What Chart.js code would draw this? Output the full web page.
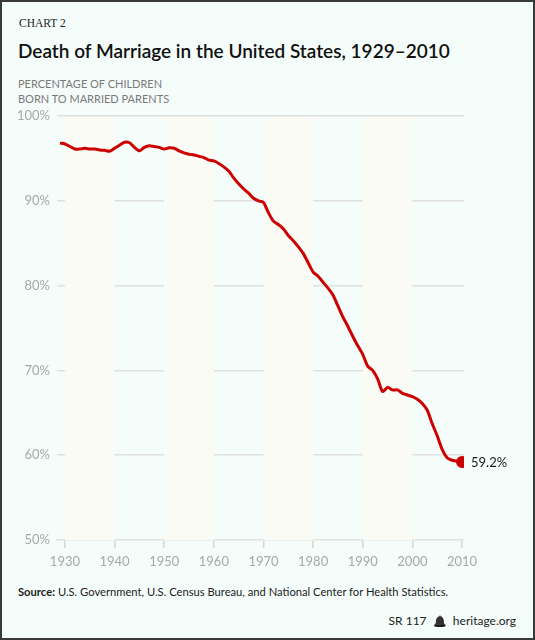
<!DOCTYPE html>
<html>
<head>
<meta charset="utf-8">
<script src="https://cdn.jsdelivr.net/npm/chart.js@4.4.1/dist/chart.umd.min.js"></script>
<style>
  html, body { margin: 0; padding: 0; background: #fff; }
  #frame {
    position: relative; box-sizing: border-box;
    width: 535px; height: 640px;
    border: 2px solid #3a3a3a;
    background: #f5fdfb;
    font-family: Lato, "Open Sans", sans-serif;
  }
  .kicker { position: absolute; left: 17px; top: 15px; font-family: "Liberation Serif", serif; font-size: 11.5px; color: #222; }
  .title { position: absolute; left: 16px; top: 37px; font-size: 19px; font-weight: 600; color: #111; }
  .subtitle { position: absolute; left: 16px; top: 74px; font-size: 11px; line-height: 15px; color: #7a7a7a; }
  #wrap { position: absolute; left: 0; top: 98px; width: 531px; height: 480px; }
  .source { position: absolute; left: 16px; top: 583px; font-size: 11.2px; color: #222; }
  .source b { font-weight: 700; }
  .foot { position: absolute; right: 17px; top: 611px; font-size: 12px; color: #222; }
  .sino { filter: grayscale(1) brightness(0.25); font-size: 11px; }
</style>
</head>
<body>
<div id="frame">
  <div class="kicker">CHART 2</div>
  <div class="title">Death of Marriage in the United States, 1929–2010</div>
  <div class="subtitle">PERCENTAGE OF CHILDREN<br>BORN TO MARRIED PARENTS</div>
  <div id="wrap"><canvas id="chartMarriage"></canvas></div>
  <div class="source"><b>Source:</b> U.S. Government, U.S. Census Bureau, and National Center for Health Statistics.</div>
  <div class="foot">SR 117 &nbsp;<span class="sino">&#x1F514;</span>&nbsp; heritage.org</div>
</div>
<script>
// Anos (1929–2010) e percentual de filhos de pais casados
const anos = [];
for (let a = 1929; a <= 2010; a++) anos.push(a);

const percentual = [
  96.8, 96.7, 96.4, 96.1, 96.1, 96.2, 96.1, 96.1, 96.0, 95.95,  // 1929-1938
  95.85, 96.2, 96.55, 96.9, 96.85, 96.3, 95.9, 96.3, 96.5, 96.4, // 1939-1948
  96.3, 96.1, 96.25, 96.2, 95.9, 95.65, 95.5, 95.4, 95.25, 95.1, // 1949-1958
  94.8, 94.7, 94.4, 94.0, 93.5, 92.7, 92.0, 91.4, 90.9, 90.3,   // 1959-1968
  90.0, 89.8, 88.6, 87.6, 87.2, 86.7, 85.9, 85.3, 84.6, 83.8,   // 1969-1978
  82.7, 81.6, 81.1, 80.4, 79.7, 78.9, 77.6, 76.3, 75.2, 74.0,   // 1979-1988
  72.9, 71.9, 70.5, 70.0, 69.0, 67.5, 68.0, 67.7, 67.7, 67.3,   // 1989-1998
  67.1, 66.9, 66.6, 66.1, 65.3, 63.7, 62.3, 60.7, 59.7, 59.4,   // 1999-2008
  59.3, 59.2                                                    // 2009-2010
];

const ticksX = [1930, 1940, 1950, 1960, 1970, 1980, 1990, 2000, 2010];
const ticksY = [50, 60, 70, 80, 90, 100];
const faixas = [1930, 1950, 1970, 1990]; // décadas com fundo bege

const corLinha = '#cc0000';
const corTexto = '#a8a8a8';

// Faixas de fundo por década
const pluginFaixas = {
  id: 'faixas',
  beforeDatasetsDraw(chart) {
    const { ctx, chartArea, scales } = chart;
    ctx.save();
    ctx.fillStyle = '#fbfbf5';
    faixas.forEach(ini => {
      const x1 = scales.x.getPixelForValue(ini);
      const x2 = scales.x.getPixelForValue(ini + 10);
      ctx.fillRect(x1, chartArea.top + 1, x2 - x1, chartArea.bottom - chartArea.top - 1);
    });
    ctx.restore();
  }
};

// Rótulo do último valor
const pluginRotulo = {
  id: 'rotulo',
  afterDatasetsDraw(chart) {
    const meta = chart.getDatasetMeta(0);
    const ultimo = meta.data[meta.data.length - 1];
    const { ctx } = chart;
    ctx.save();
    ctx.font = '13px Lato, sans-serif';
    ctx.fillStyle = '#1a1a1a';
    ctx.textBaseline = 'middle';
    ctx.fillText(percentual[percentual.length - 1].toFixed(1) + '%', ultimo.x + 9, ultimo.y + 1);
    ctx.restore();
  }
};

const ctxMarriage = document.getElementById('chartMarriage').getContext('2d');
new Chart(ctxMarriage, {
  type: 'line',
  data: {
    datasets: [{
      data: anos.map((a, i) => ({ x: a, y: percentual[i] })),
      borderColor: corLinha,
      backgroundColor: corLinha,
      borderWidth: 3,
      tension: 0.25,
      borderJoinStyle: 'round',
      pointRadius: ctx => ctx.dataIndex === percentual.length - 1 ? 4.5 : 0,
      pointHoverRadius: 0
    }]
  },
  options: {
    responsive: true,
    maintainAspectRatio: false,
    animation: false,
    events: [],
    layout: { padding: { top: 16, right: 69, bottom: 0, left: 0 } },
    plugins: { legend: { display: false }, tooltip: { enabled: false } },
    scales: {
      x: {
        type: 'linear',
        min: 1928.4,
        max: 2010.4,
        afterBuildTicks: s => { s.ticks = ticksX.map(v => ({ value: v })); },
        afterFit: s => { s.height = 40; },
        grid: { drawOnChartArea: false, drawTicks: true, tickLength: 8, color: '#d6d6d6', lineWidth: 1.5 },
        border: { display: true, color: '#e2e2e2', width: 1.5 },
        ticks: { color: corTexto, font: { family: 'Lato', size: 13 }, padding: 6, maxRotation: 0,
                 callback: v => String(v) }
      },
      y: {
        min: 50,
        max: 100,
        afterBuildTicks: s => { s.ticks = ticksY.map(v => ({ value: v })); },
        afterFit: s => { s.width = 55; },
        grid: { color: ctx => ctx.tick && ctx.tick.value === 50 ? 'rgba(0,0,0,0)' : '#e0e0e0', lineWidth: 1.5, drawTicks: false },
        border: { display: false },
        ticks: { color: corTexto, font: { family: 'Lato', size: 13 }, padding: 7,
                 callback: v => v + '%' }
      }
    }
  },
  plugins: [pluginFaixas, pluginRotulo]
});
</script>
</body>
</html>
